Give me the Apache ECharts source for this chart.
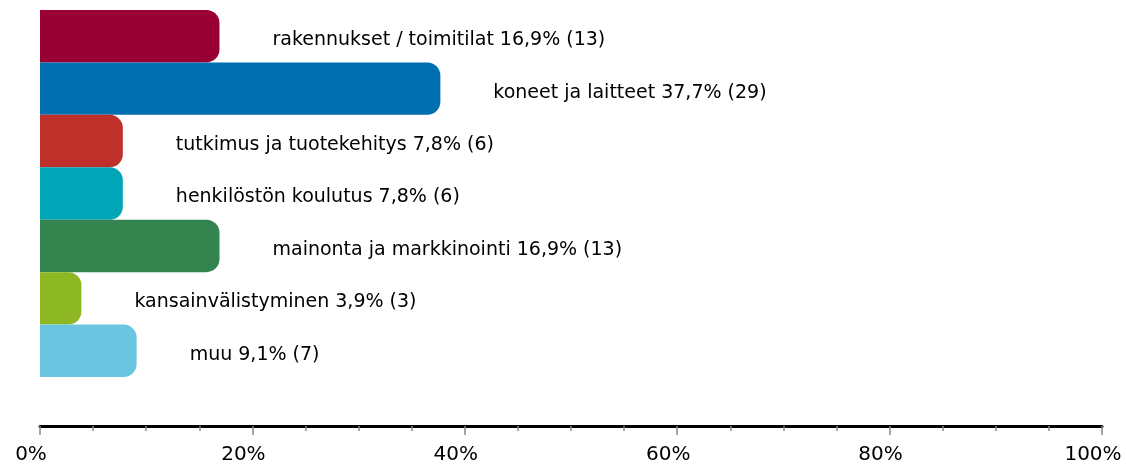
<!DOCTYPE html>
<html>
<head>
<meta charset="utf-8">
<script src="https://cdn.jsdelivr.net/npm/echarts@6/dist/echarts.min.js"></script>
<style>
  html, body { margin: 0; padding: 0; background: #fff; }
  #chart { width: 1126px; height: 469px; }
</style>
</head>
<body>
<div id="chart"></div>
<script>
const categories = [
  'rakennukset / toimitilat',
  'koneet ja laitteet',
  'tutkimus ja tuotekehitys',
  'henkilöstön koulutus',
  'mainonta ja markkinointi',
  'kansainvälistyminen',
  'muu'
];
const percents = [16.9, 37.7, 7.8, 7.8, 16.9, 3.9, 9.1];
const counts = [13, 29, 6, 6, 13, 3, 7];
const colors = ['#990033', '#006FB0', '#C0302A', '#00A5B8', '#33844E', '#8DB824', '#6CC5E0'];
const tickLabels = ['0%', '20%', '40%', '60%', '80%', '100%'];

const chart = echarts.init(document.getElementById('chart'));

const option = {
  backgroundColor: '#ffffff',
  animation: false,
  textStyle: { fontFamily: 'DejaVu Sans' },
  grid: {
    left: 40,
    right: 24,
    top: 10,
    height: 367,
    containLabel: false,
    outerBoundsMode: 'none'
  },
  xAxis: {
    type: 'value',
    min: 0,
    max: 100,
    interval: 20,
    offset: 49,
    axisLine: { show: true, lineStyle: { color: '#000', width: 3 } },
    axisTick: { show: true, length: 9, lineStyle: { color: '#888', width: 1.5 } },
    minorTick: { show: true, splitNumber: 4, length: 5, lineStyle: { color: '#888', width: 1.5 } },
    splitLine: { show: false },
    axisLabel: {
      color: '#000',
      fontSize: 20,
      margin: 19,
      padding: [0, 18, 0, 0],
      formatter: (v) => tickLabels[Math.round(v / 20)]
    }
  },
  yAxis: {
    type: 'category',
    data: categories,
    inverse: true,
    axisLine: { show: false },
    axisTick: { show: false },
    axisLabel: { show: false }
  },
  series: [
    {
      type: 'bar',
      barWidth: '100%',
      data: percents.map((v, i) => ({
        value: v,
        itemStyle: { color: colors[i] }
      })),
      itemStyle: {
        borderRadius: [0, 13, 13, 0]
      },
      label: {
        show: true,
        position: 'right',
        distance: 53,
        offset: [0, 4],
        color: '#000',
        fontSize: 19,
        formatter: (p) => `${categories[p.dataIndex]} ${String(percents[p.dataIndex]).replace('.', ',')}% (${counts[p.dataIndex]})`
      }
    }
  ]
};

chart.setOption(option);
</script>
</body>
</html>
